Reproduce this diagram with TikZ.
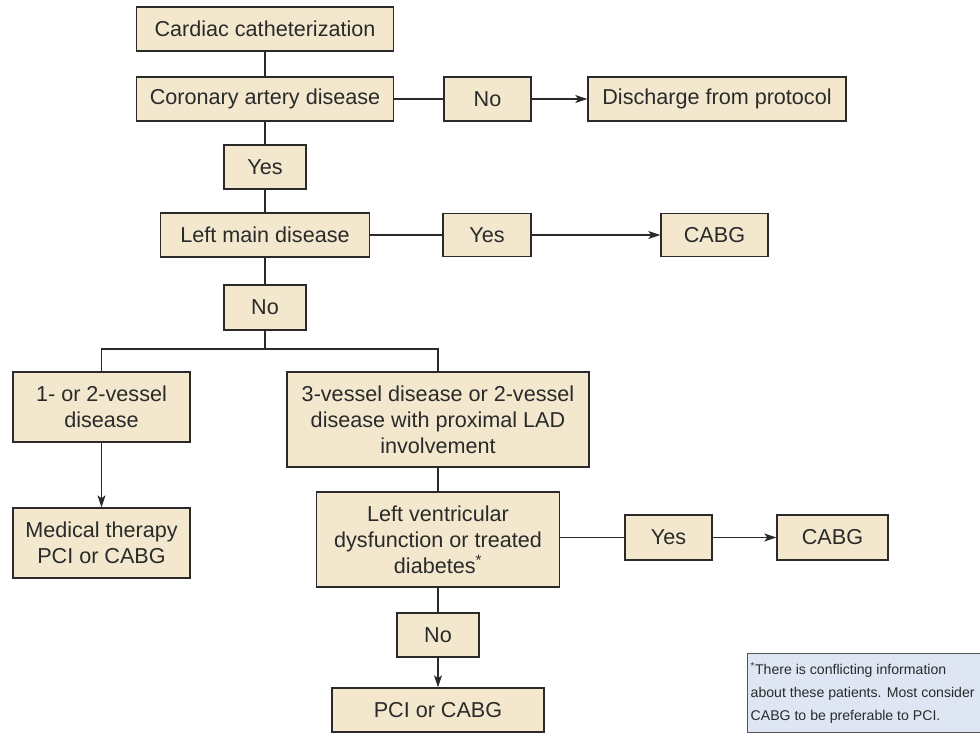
\documentclass[tikz,border=0pt]{standalone}
\usepackage{fontspec}
\setmainfont{Liberation Sans}
\usetikzlibrary{arrows.meta}
\definecolor{boxfill}{HTML}{F3E8CE}
\definecolor{inkgray}{HTML}{2A2A2A}
\definecolor{notefill}{HTML}{DFE6F3}
\definecolor{noteline}{HTML}{555555}
\begin{document}
\begin{tikzpicture}[x=1pt,y=-1pt,
  box/.style={draw=inkgray, line width=1.4pt, fill=boxfill, text=inkgray,
    inner sep=0pt, align=center, font=\fontsize{21.6}{26}\selectfont},
  link/.style={draw=inkgray, line width=1.2pt},
  arrowlink/.style={link, -{Stealth[length=12pt,width=8pt,inset=3pt]}},
  note/.style={draw=noteline, line width=1.4pt, fill=notefill, text=inkgray,
    inner sep=0pt, font=\fontsize{14.1}{23}\selectfont}]
\useasboundingbox (0,0) rectangle (980,734);

% main column
\node[box, minimum width=257pt, minimum height=44pt] (cath) at (265,29) {Cardiac catheterization};
\node[box, minimum width=257pt, minimum height=44pt] (cad) at (265,99) {Coronary artery disease};
\node[box, minimum width=87pt, minimum height=44pt] (no1) at (487.5,99) {No};
\node[box, minimum width=258pt, minimum height=44pt] (dis) at (717,99) {Discharge from protocol};
\node[box, minimum width=82pt, minimum height=44pt] (yes1) at (265,167) {Yes};
\node[box, minimum width=209pt, minimum height=44pt] (lmd) at (265,235) {Left main disease};
\node[box, minimum width=88pt, minimum height=43pt] (yes2) at (487,235) {Yes};
\node[box, minimum width=107pt, minimum height=43pt] (cabg1) at (714.5,235) {CABG};
\node[box, minimum width=82pt, minimum height=45pt] (no2) at (265,307.5) {No};

% branches
\coordinate (split) at (265,349);
\node[box, minimum width=177pt, minimum height=70pt] (v12) at (101.5,407) {1- or 2-vessel\\disease};
\node[box, minimum width=302pt, minimum height=95pt] (three) at (438,419.5) {3-vessel disease or 2-vessel\\disease with proximal LAD\\involvement};
\node[box, minimum width=177pt, minimum height=70pt] (med) at (101.5,543) {Medical therapy\\PCI or CABG};
\node[box, minimum width=243pt, minimum height=95pt] (lv) at (438,539.5) {Left ventricular\\dysfunction or treated\\diabetes\textsuperscript{*}};
\node[box, minimum width=87pt, minimum height=45pt] (yes3) at (668.5,537.5) {Yes};
\node[box, minimum width=111pt, minimum height=45pt] (cabg3) at (832.5,537.5) {CABG};
\node[box, minimum width=82pt, minimum height=44pt] (no3) at (438,635) {No};
\node[box, minimum width=212pt, minimum height=44pt] (pci) at (438,710) {PCI or CABG};

% footnote panel, running off the right edge
\node[note, anchor=north west, minimum height=79pt] (foot) at (747,653)
  {\begin{tabular}{@{\hspace{3pt}}l@{\hspace{12pt}}}
   \textsuperscript{*}There is conflicting information\\
   about these patients. Most consider\\
   CABG to be preferable to PCI.
   \end{tabular}};

% connectors
\draw[link] (cath) -- (cad);
\draw[link] (cad) -- (no1);
\draw[arrowlink] (no1) -- (dis);
\draw[link] (cad) -- (yes1);
\draw[link] (yes1) -- (lmd);
\draw[link] (lmd) -- (yes2);
\draw[arrowlink] (yes2) -- (cabg1);
\draw[link] (lmd) -- (no2);
\draw[link] (no2) -- (split);
\draw[link] (v12.north) |- (split) -| (three.north);
\draw[arrowlink] (v12) -- (med);
\draw[link] (three) -- (lv);
\draw[link] (lv.east |- yes3.west) -- (yes3);
\draw[arrowlink] (yes3) -- (cabg3);
\draw[link] (lv) -- (no3);
\draw[arrowlink] (no3) -- (pci);
\end{tikzpicture}
\end{document}
